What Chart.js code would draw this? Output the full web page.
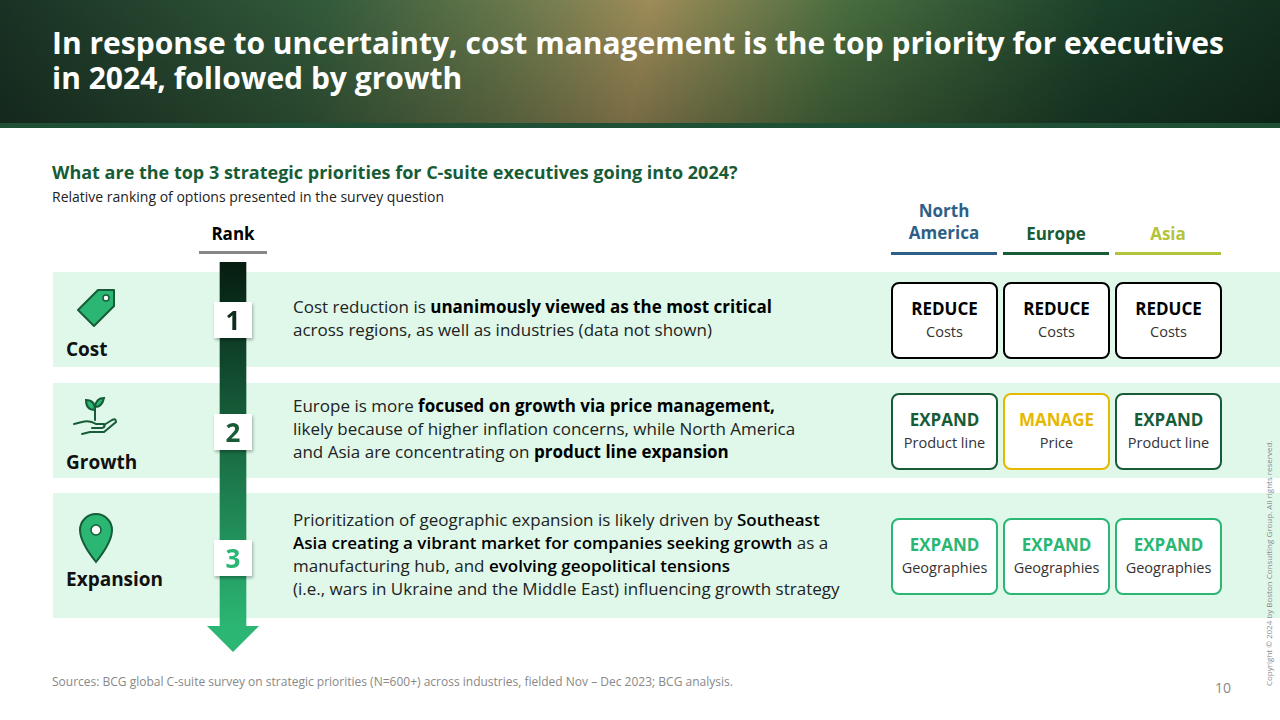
<!DOCTYPE html>
<html><head><meta charset="utf-8">
<script src="https://cdn.jsdelivr.net/npm/chart.js@4"></script>
<style>
body{margin:0;width:1280px;height:720px;position:relative;overflow:hidden;font-family:"Open Sans","Noto Sans",sans-serif;background:#fff}
.banner{position:absolute;left:0;top:0;width:1280px;height:123px;background:linear-gradient(100deg,#1d3a2a 0%,#3c6a45 25%,#7e8f5a 40%,#b9a468 50%,#55804a 65%,#1f4a30 85%,#163623 100%)}
.banner:after{content:"";position:absolute;left:0;top:0;right:0;bottom:0;background:linear-gradient(180deg,rgba(0,0,0,0.15),rgba(0,0,0,0.35))}
.bline{position:absolute;left:0;top:123px;width:1280px;height:5px;background:#1f4f34}
.t1,.t2{position:absolute;left:52px;color:#fff;font-size:30px;font-weight:700;line-height:30px;height:30px;z-index:2;white-space:nowrap}
.abs{position:absolute}
.row{position:absolute;left:53px;width:1227px;background:#dff8ea}
.lbl{position:absolute;left:66px;font-size:19px;font-weight:700;color:#111}
.txt{position:absolute;left:293px;font-size:17px;line-height:23px;color:#222;white-space:nowrap}
.txt b{font-weight:700;color:#000}
.box{position:absolute;width:103px;height:73px;border:2px solid #000;border-radius:8px;background:#fff;text-align:center;box-sizing:content-box}
.box b{display:block;font-size:17px;margin-top:14px;line-height:22px}
.box span{font-size:14.5px;color:#333}
.hdr{position:absolute;width:106px;text-align:center;font-size:17px;font-weight:700;line-height:22px}
.num{position:absolute;left:214px;width:38px;height:36px;background:#fff;text-align:center;font-size:26px;font-weight:700;line-height:36px;box-shadow:1px 2px 3px rgba(0,0,0,.3)}
</style></head><body>
<div class="banner"></div><div class="bline"></div>
<div class="t1" style="top:28px">In response to uncertainty, cost management is the top priority for executives</div>
<div class="t2" style="top:63px">in 2024, followed by growth</div>
<div class="abs" style="left:52px;top:160px;font-size:18px;font-weight:700;color:#175c36">What are the top 3 strategic priorities for C-suite executives going into 2024?</div>
<div class="abs" style="left:52px;top:187px;font-size:14px;color:#222">Relative ranking of options presented in the survey question</div>
<div class="abs" style="left:199px;top:222px;width:68px;text-align:center;font-size:17px;font-weight:700">Rank</div>
<div class="abs" style="left:199px;top:251px;width:68px;height:3px;background:#888"></div>
<div id="rows"></div>
<canvas id="c" class="abs" style="left:195px;top:262px;width:76px;height:390px"></canvas>
<div id="over"></div>
<div class="abs" style="left:52px;top:673px;font-size:12px;color:#888">Sources: BCG global C-suite survey on strategic priorities (N=600+) across industries, fielded Nov – Dec 2023; BCG analysis.</div>
<div class="abs" style="left:1215px;top:678px;font-size:14px;color:#888">10</div>
<div class="abs" style="left:1263px;top:686px;font-size:8px;color:#888;transform:rotate(-90deg);transform-origin:0 0;white-space:nowrap">Copyright © 2024 by Boston Consulting Group. All rights reserved.</div>
<script>
const regions=["North<br>America","Europe","Asia"];
const regionColors=["#2f5f86","#175c36","#b4c43a"];
const categories=["Cost","Growth","Expansion"];
const ranks=[1,2,3];
const actions=[["REDUCE","REDUCE","REDUCE"],["EXPAND","MANAGE","EXPAND"],["EXPAND","EXPAND","EXPAND"]];
const objects=[["Costs","Costs","Costs"],["Product line","Price","Product line"],["Geographies","Geographies","Geographies"]];
const texts=["Cost reduction is <b>unanimously viewed as the most critical</b><br>across regions, as well as industries (data not shown)",
"Europe is more <b>focused on growth via price management,</b><br>likely because of higher inflation concerns, while North America<br>and Asia are concentrating on <b>product line expansion</b>",
"Prioritization of geographic expansion is likely driven by <b style='font-weight:600'>Southeast</b><br><b style='font-weight:600'>Asia creating a vibrant market for companies seeking growth</b> as a<br>manufacturing hub, and <b style='font-weight:600'>evolving geopolitical tensions</b><br>(i.e.,  wars in Ukraine and the Middle East) influencing growth strategy"];
const rowTop=[272,383,493],rowH=[95,95,125];
const boxCol={REDUCE:"#000",EXPAND:"#175c36",MANAGE:"#e6b800"};
const boxCol3="#2bb673";
const icons=[
`<svg width="46" height="46" viewBox="0 0 46 46"><path d="M6 24 L26 4 L42 4 L42 20 L22 40 Z" fill="#2bb673" stroke="#175c36" stroke-width="2" stroke-linejoin="round"/><circle cx="34" cy="12" r="3" fill="#fff" stroke="#175c36" stroke-width="1.5"/></svg>`,
`<svg width="46" height="46" viewBox="0 0 46 46" fill="none" stroke="#175c36" stroke-width="2" stroke-linecap="round"><path d="M2 30 L10 28 Q18 26 24 30 L32 30 Q34 33 30 34 L20 34"/><path d="M10 40 L18 38 L32 38 L44 28 Q44 24 40 26 L32 31"/><path d="M23 26 L23 14"/><path d="M23 16 Q14 16 14 6 Q23 6 23 16 Z" fill="#2bb673"/><path d="M23 13 Q30 13 32 4 Q24 4 23 13 Z" fill="#2bb673"/></svg>`,
`<svg width="40" height="52" viewBox="0 0 40 52"><path d="M20 50 Q4 30 4 18 A16 16 0 0 1 36 18 Q36 30 20 50 Z" fill="#2bb673" stroke="#175c36" stroke-width="2"/><circle cx="20" cy="18" r="5" fill="#fff" stroke="#175c36" stroke-width="1.5"/></svg>`];
const iconTop=[286,394,512];
let h="";
const cx=[944,1056,1168];
regions.forEach((r,i)=>{h+=`<div class="hdr" style="left:${cx[i]-53}px;top:${i==0?200:223}px;color:${regionColors[i]}">${r}</div><div class="abs" style="left:${cx[i]-53}px;top:252px;width:106px;height:3px;background:${regionColors[i]}"></div>`});
const lblTop=[336,449,566];
categories.forEach((c,k)=>{
 const t=rowTop[k],H=rowH[k];
 h+=`<div class="row" style="top:${t}px;height:${H}px"></div>`;
 h+=`<div class="lbl" style="top:${lblTop[k]}px">${c}</div>`;
 h+=`<div class="abs" style="left:${k==2?76:72}px;top:${iconTop[k]}px">${icons[k]}</div>`;
 const lines=texts[k].split("<br>").length;
 h+=`<div class="txt" style="top:${t+H/2-lines*11.5-2}px">${texts[k]}</div>`;
 actions[k].forEach((a,i)=>{
  let col=k==2?boxCol3:boxCol[a];
  h+=`<div class="box" style="left:${cx[i]-53}px;top:${t+H/2-38}px;border-color:${col}"><b style="color:${k==0?'#000':col}">${a}</b><span>${objects[k][i]}</span></div>`;
 });
});
document.getElementById("rows").innerHTML=h;
let o="";const numTop=[302,414,540];
ranks.forEach((r,k)=>{o+=`<div class="num" style="top:${numTop[k]}px;color:${["#0e2d1c","#175c36","#2bb673"][k]}">${r}</div>`});
document.getElementById("over").innerHTML=o;
const arrowHead={id:"ah",afterDatasetsDraw(ch){const x=ch.scales.x,y=ch.scales.y,ctx=ch.ctx;const cxp=x.getPixelForValue(0),yb=y.getPixelForValue(ranks.length);
 ctx.fillStyle="#2bb673";ctx.beginPath();ctx.moveTo(cxp-26,yb);ctx.lineTo(cxp+26,yb);ctx.lineTo(cxp,yb+26);ctx.closePath();ctx.fill();}};
new Chart(document.getElementById("c"),{type:"bar",
 data:{labels:["rank"],datasets:[{data:[[0,ranks.length]],barThickness:26,borderWidth:0,
  backgroundColor(ctx){const a=ctx.chart.chartArea;if(!a)return"#2bb673";const g=ctx.chart.ctx.createLinearGradient(0,a.top,0,a.bottom);g.addColorStop(0,"#061c10");g.addColorStop(1,"#2bb673");return g;}}]},
 options:{responsive:false,animation:false,devicePixelRatio:1,layout:{padding:{bottom:26}},
  plugins:{legend:{display:false},tooltip:{enabled:false}},
  scales:{x:{display:false},y:{display:false,reverse:true,min:0,max:ranks.length}}},
 plugins:[arrowHead]});
</script></body></html>
